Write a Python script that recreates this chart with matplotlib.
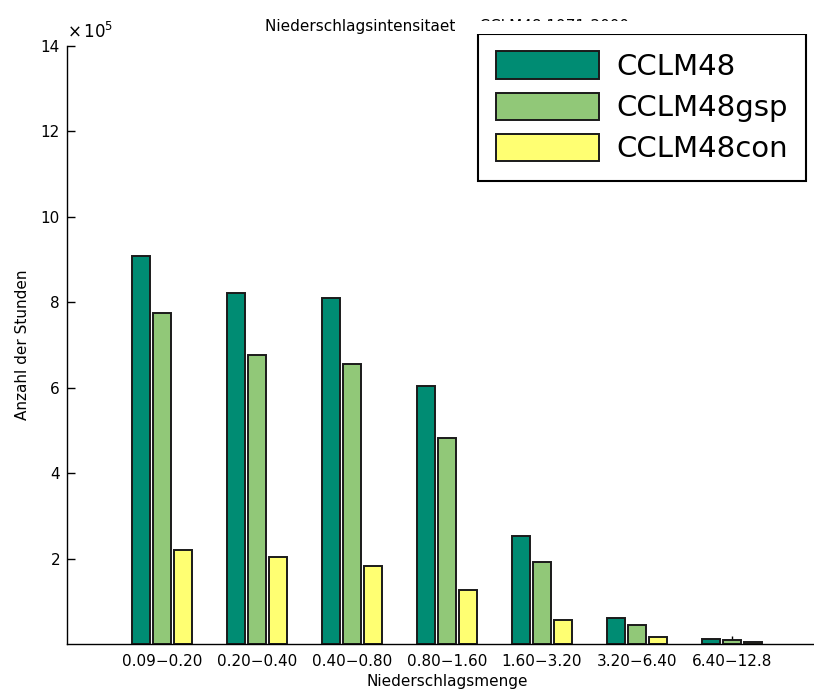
import matplotlib
matplotlib.use("Agg")
import matplotlib.pyplot as plt
import numpy as np
from matplotlib.patches import Rectangle

categories = ["0.09\u22120.20", "0.20\u22120.40", "0.40\u22120.80", "0.80\u22121.60",
              "1.60\u22123.20", "3.20\u22126.40", "6.40\u221212.8"]
series_names = ["CCLM48", "CCLM48gsp", "CCLM48con"]
cclm48 = [9.08e5, 8.21e5, 8.09e5, 6.04e5, 2.53e5, 0.61e5, 0.12e5]
cclm48_gsp = [7.74e5, 6.76e5, 6.55e5, 4.82e5, 1.92e5, 0.44e5, 0.09e5]
cclm48_con = [2.20e5, 2.04e5, 1.82e5, 1.26e5, 0.56e5, 0.16e5, 0.04e5]
ytick_vals = [2e5, 4e5, 6e5, 8e5, 10e5, 12e5, 14e5]
ytick_labels = ["2", "4", "6", "8", "10", "12", "14"]
colors = ["#008c73", "#91c878", "#ffff72"]

plt.rcParams["font.family"] = ["DejaVu Sans"]

fig = plt.figure(figsize=(8.14, 6.94), dpi=100)
ax = fig.add_axes([67 / 814, 50 / 694, 760 / 814, 598 / 694])

x = np.arange(1, len(categories) + 1)
width = 0.19
offsets = [-0.221, 0.0, 0.221]
for vals, name, col, off in zip([cclm48, cclm48_gsp, cclm48_con], series_names, colors, offsets):
    ax.bar(x + off, vals, width, color=col, edgecolor="#1a1a1a", linewidth=1.4, label=name, zorder=2)

ax.set_xlim(0, 8)
ax.set_ylim(0, 14e5)
ax.set_yticks(ytick_vals, ytick_labels)
ax.set_xticks(x, categories)
# exponent label in the MATLAB style
ax.text(0.0, 1.006, r"$\times\,10^{5}$", transform=ax.transAxes, fontsize=12,
        ha="left", va="bottom")

ax.spines["top"].set_visible(False)
ax.spines["right"].set_visible(False)
for s in ("left", "bottom"):
    ax.spines[s].set_linewidth(1.0)
ax.tick_params(axis="both", direction="in", length=6, width=1.0, labelsize=11)
ax.tick_params(axis="x", pad=7)
ax.tick_params(axis="y", pad=5)

ax.set_xlabel("Niederschlagsmenge", fontsize=11, labelpad=4)
ax.set_ylabel("Anzahl der Stunden", fontsize=11, labelpad=8)
ax.set_title("Niederschlagsintensitaeten CCLM48 1971-2000", fontsize=11, pad=11)

leg = ax.legend(loc="upper left", bbox_to_anchor=(478 / 814, 1 - 34 / 694),
                bbox_transform=fig.transFigure, fontsize=21, frameon=True,
                fancybox=False, handlelength=3.55, handleheight=1.05,
                handletextpad=0.6, labelspacing=0.4, borderpad=0.6,
                borderaxespad=0)
leg.get_frame().set_edgecolor("black")
leg.get_frame().set_linewidth(1.5)
leg.get_frame().set_alpha(1)
leg.set_zorder(10)

# white strip above the legend box, hides the end of the title
fig.patches.append(Rectangle((455 / 814, 1 - 34 / 694), 359 / 814, 13 / 694,
                             transform=fig.transFigure, facecolor="white",
                             edgecolor="none", zorder=20))

fig.savefig("out.png", dpi=100)
